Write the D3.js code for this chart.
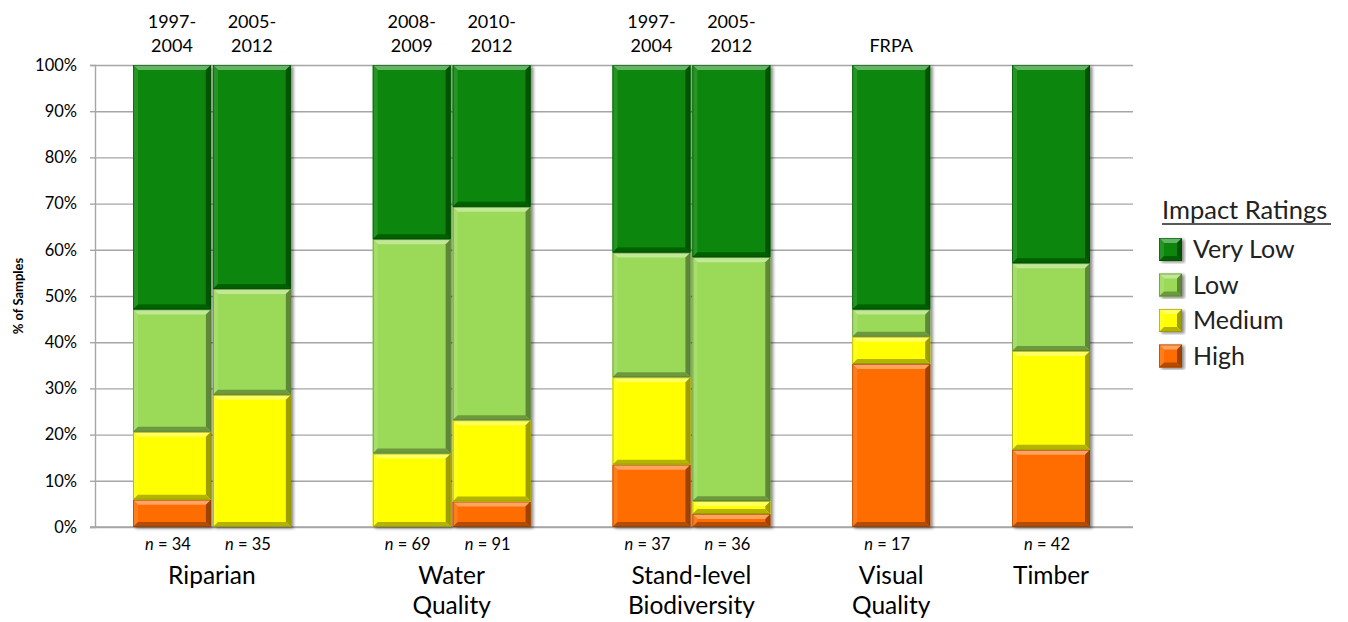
<!DOCTYPE html>
<html>
<head>
<meta charset="utf-8">
<script src="https://cdn.jsdelivr.net/npm/d3@7/dist/d3.min.js"></script>
<style>
  html, body { margin: 0; padding: 0; background: #fff; }
  svg { display: block; font-family: Lato, "Open Sans", sans-serif; }
</style>
</head>
<body>
<svg id="chart" width="1348" height="622"></svg>
<script>
// ---------- data ----------
const slots = ["R1","R2","gap1","W1","W2","gap2","S1","S2","gap3","V1","gap4","T1"];
const barKeys = ["R1","R2","W1","W2","S1","S2","V1","T1"];
const periodLabels = [["1997-","2004"],["2005-","2012"],["2008-","2009"],["2010-","2012"],["1997-","2004"],["2005-","2012"],["FRPA"],[]];
const sampleSizes = [34,35,69,91,37,36,17,42];
const categoryLabels = [["Riparian"],["Water","Quality"],["Stand-level","Biodiversity"],["Visual","Quality"],["Timber"]];
const categoryBars = [["R1","R2"],["W1","W2"],["S1","S2"],["V1"],["T1"]];
const ratings = ["High","Medium","Low","Very Low"];
const high    = [5.9, 0.0, 0.0, 5.5, 13.5, 2.8, 35.3, 16.7];
const medium  = [14.7, 28.6, 15.9, 17.6, 18.9, 2.8, 5.9, 21.4];
const low     = [26.5, 22.9, 46.4, 46.2, 27.0, 52.8, 5.9, 19.0];
const veryLow = [52.9, 48.5, 37.7, 30.7, 40.6, 41.6, 52.9, 42.9];
const yTicks = [0,10,20,30,40,50,60,70,80,90,100];
const colors = {"High":"#ff6c00","Medium":"#ffff00","Low":"#9ada58","Very Low":"#078607"};

// ---------- layout ----------
const svg = d3.select("#chart");
const x = d3.scaleBand().domain(slots).range([133, 1090]).paddingInner(0.025).paddingOuter(0);
const y = d3.scaleLinear().domain([0, 100]).range([527, 65]);
const axisX = 95, plotRight = 1133;

const defs = svg.append("defs");
const f = defs.append("filter").attr("id","shadow").attr("x","-10%").attr("y","-5%").attr("width","125%").attr("height","115%");
f.append("feDropShadow").attr("dx",2.5).attr("dy",1.5).attr("stdDeviation",1.6).attr("flood-color","#000").attr("flood-opacity",0.45);

// gridlines
svg.append("g")
  .attr("transform", `translate(${axisX},0)`)
  .call(d3.axisLeft(y).tickValues(yTicks).tickSize(-(plotRight - axisX)).tickFormat(""))
  .call(g => g.select(".domain").remove())
  .call(g => g.selectAll("line").attr("stroke","#a6a6a6").attr("stroke-width",1.4));

// y axis with ticks & labels
svg.append("g")
  .attr("transform", `translate(${axisX},0)`)
  .call(d3.axisLeft(y).tickValues(yTicks).tickSize(5).tickPadding(13).tickFormat(d => d + "%"))
  .call(g => g.select(".domain").attr("stroke","#a6a6a6").attr("stroke-width",1.4))
  .call(g => g.selectAll("line").attr("stroke","#a6a6a6").attr("stroke-width",1.4))
  .call(g => g.selectAll("text").attr("font-size","16.5px").attr("fill","#000").attr("font-family","Lato, sans-serif"));

// x baseline
svg.append("line").attr("x1", axisX - 5).attr("x2", plotRight).attr("y1", y(0)).attr("y2", y(0))
  .attr("stroke","#a6a6a6").attr("stroke-width",1.4);

// y title
svg.append("text")
  .attr("transform", `translate(23,${(y(0)+y(100))/2}) rotate(-90)`)
  .attr("text-anchor","middle").attr("font-size","13px").attr("font-weight","bold")
  .text("% of Samples");

// ---------- bevel helper ----------
function bevelBox(g, x0, y0, w, h, color) {
  const b = Math.min(5, h / 2, w / 2);
  const c = d3.color(color);
  const lighter = d3.interpolateRgb(color, "#ffffff")(0.38);
  const leftC = d3.interpolateRgb(color, "#ffffff")(0.12);
  const darker = d3.interpolateRgb(color, "#000000")(0.38);
  const bottomC = d3.interpolateRgb(color, "#000000")(0.3);
  const x1 = x0 + w, y1 = y0 + h;
  g.append("rect").attr("x", x0).attr("y", y0).attr("width", w).attr("height", h).attr("fill", c.formatHex());
  const poly = (pts, fill) => g.append("polygon").attr("points", pts.map(p => p.join(",")).join(" ")).attr("fill", fill);
  poly([[x0,y0],[x1,y0],[x1-b,y0+b],[x0+b,y0+b]], lighter);
  poly([[x0,y0],[x0+b,y0+b],[x0+b,y1-b],[x0,y1]], leftC);
  poly([[x1,y0],[x1,y1],[x1-b,y1-b],[x1-b,y0+b]], darker);
  poly([[x0,y1],[x1,y1],[x1-b,y1-b],[x0+b,y1-b]], bottomC);
  g.append("rect").attr("x", x0 + 0.5).attr("y", y0 + 0.5).attr("width", w - 1).attr("height", Math.max(0, h - 1))
    .attr("fill","none").attr("stroke", d3.interpolateRgb(color, "#000000")(0.45)).attr("stroke-width", 0.8).attr("stroke-opacity", 0.7);
}

// ---------- bars ----------
const rows = barKeys.map((k, i) => ({ key: k, "High": high[i], "Medium": medium[i], "Low": low[i], "Very Low": veryLow[i] }));
const stack = d3.stack().keys(ratings)(rows);

const barsG = svg.append("g");
barKeys.forEach((k, i) => {
  const g = barsG.append("g").attr("filter","url(#shadow)");
  stack.forEach(series => {
    const d = series[i];
    const v = d[1] - d[0];
    if (v <= 0) return;
    const top = y(d[1]), bot = y(d[0]);
    bevelBox(g, x(k), top, x.bandwidth(), bot - top, colors[series.key]);
  });
});

// period labels above bars
barKeys.forEach((k, i) => {
  const lines = periodLabels[i];
  const cx = x(k) + x.bandwidth() / 2;
  const startY = lines.length === 1 ? 52 : 28;
  lines.forEach((t, j) => {
    svg.append("text").attr("x", cx).attr("y", startY + j * 24).attr("text-anchor","middle")
      .attr("font-size","18px").text(t);
  });
});

// n labels
barKeys.forEach((k, i) => {
  const cx = x(k) + x.bandwidth() / 2 - 4;
  const t = svg.append("text").attr("x", cx).attr("y", 550).attr("text-anchor","middle").attr("font-size","16.5px");
  t.append("tspan").attr("font-style","italic").text("n");
  t.append("tspan").text(" = " + sampleSizes[i]);
});

// category labels
categoryLabels.forEach((lines, ci) => {
  const ks = categoryBars[ci];
  const left = x(ks[0]), right = x(ks[ks.length - 1]) + x.bandwidth();
  const cx = (left + right) / 2;
  lines.forEach((t, j) => {
    svg.append("text").attr("x", cx).attr("y", 584 + j * 30).attr("text-anchor","middle")
      .attr("font-size","24.5px").attr("fill","#000").text(t);
  });
});

// ---------- legend ----------
const legend = svg.append("g");
legend.append("text").attr("x", 1162).attr("y", 219).attr("font-size","25.5px")
  .attr("fill","#222").text("Impact Ratings");
legend.append("line").attr("x1", 1162).attr("x2", 1331).attr("y1", 224).attr("y2", 224)
  .attr("stroke","#222").attr("stroke-width",1.3);
const legendOrder = ["Very Low","Low","Medium","High"];
legendOrder.forEach((r, i) => {
  const cy = 249 + i * 35.5;
  const g = legend.append("g").attr("filter","url(#shadow)");
  bevelBox(g, 1159, cy - 11, 23, 23, colors[r]);
  legend.append("text").attr("x", 1193).attr("y", cy + 9).attr("font-size","25px").attr("fill","#222").text(r);
});
</script>
</body>
</html>
